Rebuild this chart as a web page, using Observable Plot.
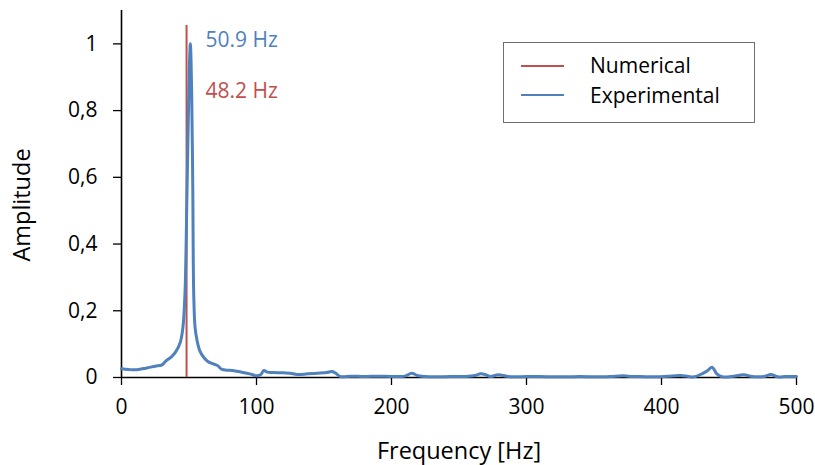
<!DOCTYPE html>
<html>
<head>
<meta charset="utf-8">
<script src="https://cdn.jsdelivr.net/npm/d3@7"></script>
<script src="https://cdn.jsdelivr.net/npm/@observablehq/plot@0.6"></script>
<style>
  html, body { margin: 0; padding: 0; background: #fff; }
  #wrap { position: relative; width: 815px; height: 465px; font-family: "Open Sans", sans-serif; }
  #legend { position: absolute; left: 503px; top: 42px; width: 252px; height: 81px;
            border: 1px solid #6f6f6f; background: #fff; box-sizing: border-box; }
  .swatch { position: absolute; left: 17px; width: 43px; height: 2px; }
  .lab { position: absolute; left: 86px; white-space: nowrap; line-height: 24px; font-size: 21px; color: #000; }
  #ytitle { position: absolute; left: 22px; top: 205px; transform: translate(-50%, -50%) rotate(-90deg);
            font-size: 23.5px; white-space: nowrap; color: #000; line-height: 1; }
</style>
</head>
<body>
<div id="wrap"></div>
<script>
// ---- data ----
const freq = [0, 5, 10, 18, 25, 30, 33, 37, 40, 43.5, 45.5, 47, 48.5, 50, 51, 52, 52.8, 53.5, 54.5, 56, 58, 61, 64, 67, 71, 74.5, 78, 82, 89, 95, 100, 103, 105.5, 108, 112, 120, 125, 130, 138, 145, 152, 156, 159, 162, 170, 180, 190, 199, 206, 210, 215, 219, 225, 231, 244, 255, 262, 266, 270, 273, 279, 285, 290, 300, 310, 320, 330, 340, 352, 362, 372, 378, 384, 397, 405, 414, 420, 424, 430, 434, 437.5, 441, 445, 452, 461, 466, 471, 476, 481, 486, 492, 500];
const amplitude = [0.026, 0.024, 0.023, 0.028, 0.034, 0.038, 0.05, 0.062, 0.076, 0.105, 0.15, 0.25, 0.55, 0.88, 1.0, 0.85, 0.57, 0.25, 0.15, 0.11, 0.08, 0.06, 0.048, 0.042, 0.036, 0.024, 0.022, 0.021, 0.016, 0.011, 0.005, 0.008, 0.021, 0.016, 0.015, 0.014, 0.013, 0.009, 0.011, 0.013, 0.015, 0.018, 0.012, 0.003, 0.004, 0.003, 0.004, 0.003, 0.003, 0.004, 0.013, 0.006, 0.003, 0.002, 0.003, 0.003, 0.006, 0.011, 0.008, 0.003, 0.008, 0.004, 0.002, 0.003, 0.003, 0.002, 0.002, 0.003, 0.002, 0.003, 0.005, 0.003, 0.003, 0.002, 0.004, 0.006, 0.003, 0.002, 0.011, 0.02, 0.031, 0.011, 0.002, 0.003, 0.008, 0.004, 0.002, 0.003, 0.009, 0.002, 0.003, 0.003];
const numericalFreq = [48.2];
const numericalTop = [1.055];
const seriesNames = ["Numerical", "Experimental"];
const seriesColors = ["#C0504D", "#4F81BD"];
const peakLabels = ["50.9 Hz", "48.2 Hz"];
const peakLabelX = [62.2, 62.2];
const peakLabelY = [1.01, 0.857];
const xTicks = [0, 100, 200, 300, 400, 500];
const yTicks = [0, 0.2, 0.4, 0.6, 0.8, 1];
const xTitle = "Frequency [Hz]";
const yTitle = "Amplitude";

const experimental = freq.map((f, i) => ({f, a: amplitude[i]}));
const labels = peakLabels.map((t, i) => ({t, x: peakLabelX[i], y: peakLabelY[i], c: seriesColors[1 - i]}));
const fmt = d => String(d).replace(".", ",");

const chart = Plot.plot({
  width: 815,
  height: 465,
  marginLeft: 121,
  marginRight: 19,
  marginTop: 10,
  marginBottom: 88,
  style: {fontFamily: "Open Sans, sans-serif", fontSize: "21px", color: "#000", background: "#fff"},
  x: {domain: [0, 500]},
  y: {domain: [0, 1.1]},
  marks: [
    Plot.axisX({ticks: xTicks, tickSize: 8, tickPadding: 14, tickFormat: d => String(d), fontSize: 21, label: null, stroke: "#000", strokeWidth: 1.3}),
    Plot.axisY({ticks: yTicks, tickSize: 8, tickPadding: 16, tickFormat: fmt, fontSize: 21, label: null, stroke: "#000", strokeWidth: 1.3}),
    Plot.ruleX([0], {stroke: "#000", strokeWidth: 1.6}),
    Plot.ruleY([0], {stroke: "#000", strokeWidth: 1.6}),
    Plot.ruleX(numericalFreq, {x: d => d, y1: 0, y2: (d, i) => numericalTop[i], stroke: seriesColors[0], strokeWidth: 2}),
    Plot.line(experimental, {x: "f", y: "a", stroke: seriesColors[1], strokeWidth: 3, curve: "catmull-rom"}),
    Plot.text(labels, {x: "x", y: "y", text: "t", fill: "c", textAnchor: "start", fontSize: 21}),
    Plot.text([xTitle], {frameAnchor: "bottom", dy: 81, fontSize: 23.5, text: d => d})
  ]
});

const wrap = document.getElementById("wrap");
wrap.appendChild(chart);

const yt = document.createElement("div");
yt.id = "ytitle";
yt.textContent = yTitle;
wrap.appendChild(yt);

const legend = document.createElement("div");
legend.id = "legend";
seriesNames.forEach((name, i) => {
  const sw = document.createElement("div");
  sw.className = "swatch";
  sw.style.background = seriesColors[i];
  sw.style.top = (i === 0 ? 22 : 51) + "px";
  legend.appendChild(sw);
  const lab = document.createElement("div");
  lab.className = "lab";
  lab.style.top = (i === 0 ? 10 : 40) + "px";
  lab.textContent = name;
  legend.appendChild(lab);
});
wrap.appendChild(legend);
</script>
</body>
</html>
